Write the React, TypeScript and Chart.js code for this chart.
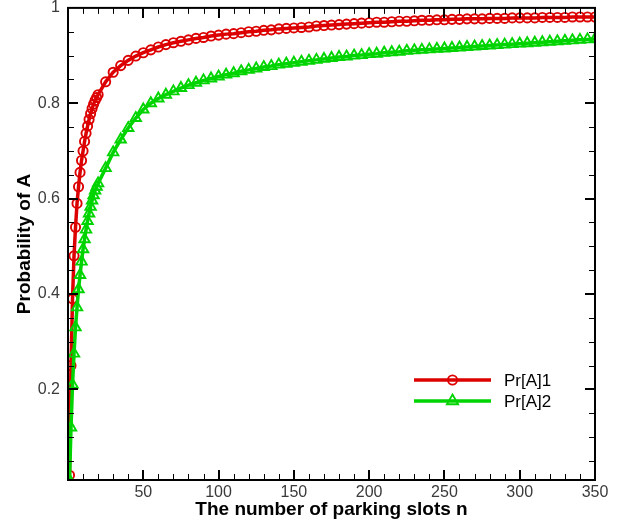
import React, { useEffect, useRef } from 'react';
import { Chart, registerables } from 'chart.js';

Chart.register(...registerables);

// ---- data ----
const nValues = [
  1, 2, 3, 4, 5, 6, 7, 8, 9, 10, 11, 12, 13, 14, 15, 16, 17, 18, 19, 20,
  25, 30, 35, 40, 45, 50, 55, 60, 65, 70, 75, 80, 85, 90, 95, 100,
  105, 110, 115, 120, 125, 130, 135, 140, 145, 150, 155, 160, 165, 170, 175, 180,
  185, 190, 195, 200, 205, 210, 215, 220, 225, 230, 235, 240, 245, 250, 255, 260,
  265, 270, 275, 280, 285, 290, 295, 300, 305, 310, 315, 320, 325, 330, 335, 340,
  345, 350,
];

const pr1Values = [
  0.02, 0.25, 0.39, 0.48, 0.54, 0.59, 0.625, 0.655, 0.68, 0.7, 0.72, 0.737, 0.752, 0.766, 0.778, 0.789, 0.798, 0.806, 0.812, 0.818,
  0.845, 0.865, 0.879, 0.89, 0.899, 0.906, 0.912, 0.918, 0.923, 0.927, 0.93, 0.933, 0.936, 0.938, 0.941, 0.943,
  0.945, 0.946, 0.948, 0.95, 0.951, 0.953, 0.954, 0.956, 0.957, 0.958, 0.959, 0.96, 0.962, 0.963, 0.964, 0.965,
  0.966, 0.967, 0.968, 0.969, 0.97, 0.97, 0.971, 0.972, 0.972, 0.973, 0.974, 0.974, 0.975, 0.975, 0.976, 0.976,
  0.977, 0.977, 0.977, 0.978, 0.978, 0.978, 0.979, 0.979, 0.979, 0.979, 0.98, 0.98, 0.98, 0.98, 0.981, 0.981,
  0.981, 0.981,
];

const pr2Values = [
  0.01, 0.12, 0.21, 0.275, 0.33, 0.372, 0.41, 0.44, 0.468, 0.494, 0.515, 0.535, 0.553, 0.569, 0.583, 0.596, 0.607, 0.617, 0.625, 0.632,
  0.664, 0.697, 0.724, 0.748, 0.769, 0.787, 0.8, 0.81, 0.818, 0.825, 0.832, 0.838, 0.843, 0.848, 0.852, 0.856,
  0.86, 0.863, 0.867, 0.87, 0.873, 0.876, 0.878, 0.881, 0.883, 0.885, 0.887, 0.889, 0.891, 0.893, 0.895, 0.897,
  0.898, 0.9, 0.901, 0.903, 0.904, 0.906, 0.907, 0.908, 0.91, 0.911, 0.912, 0.913, 0.914, 0.915, 0.916, 0.917,
  0.918, 0.919, 0.92, 0.921, 0.922, 0.923, 0.924, 0.925, 0.926, 0.927, 0.928, 0.929, 0.93, 0.931, 0.932, 0.933,
  0.934, 0.935,
];

const seriesLabels = ['Pr[A]1', 'Pr[A]2'];
const xTickValues = [50, 100, 150, 200, 250, 300, 350];
const yTickValues = [0.2, 0.4, 0.6, 0.8, 1];
const xMinorStep = 10;
const yMinorStep = 0.05;

const X_MIN = 0;
const X_MAX = 350;
const Y_MIN = 0.01;
const Y_MAX = 1;

// ---- styles ----
const RED = '#dc0000';
const GREEN = '#00d400';
const FONT = '"Liberation Sans", Arial, Helvetica, sans-serif';

const framePlugin = {
  id: 'tecplotFrame',
  afterDatasetsDraw(chart: any) {
    const { ctx, chartArea: a, scales } = chart;
    const xs = scales.x;
    const ys = scales.y;
    ctx.save();
    ctx.strokeStyle = '#000';
    // minor + major ticks on x (bottom & top, inward)
    for (let i = 1; X_MIN + i * xMinorStep < X_MAX; i++) {
      const v = X_MIN + i * xMinorStep;
      const major = xTickValues.some((t) => Math.abs(t - v) < 1e-9);
      const len = major ? 10 : 6;
      const w = major ? 2 : 1;
      const px = w === 1 ? Math.round(xs.getPixelForValue(v)) + 0.5 : Math.round(xs.getPixelForValue(v));
      ctx.lineWidth = w;
      ctx.beginPath();
      ctx.moveTo(px, a.bottom);
      ctx.lineTo(px, a.bottom - len);
      ctx.moveTo(px, a.top);
      ctx.lineTo(px, a.top + len);
      ctx.stroke();
    }
    // y ticks (left & right, inward)
    const nY = Math.round((Y_MAX - 0) / yMinorStep);
    for (let i = 1; i < nY; i++) {
      const v = i * yMinorStep;
      if (v <= Y_MIN) continue;
      const major = yTickValues.some((t) => Math.abs(t - v) < 1e-9);
      const len = major ? 10 : 6;
      const w = major ? 2 : 1;
      const py = w === 1 ? Math.round(ys.getPixelForValue(v)) + 0.5 : Math.round(ys.getPixelForValue(v));
      ctx.lineWidth = w;
      ctx.beginPath();
      ctx.moveTo(a.left, py);
      ctx.lineTo(a.left + len, py);
      ctx.moveTo(a.right, py);
      ctx.lineTo(a.right - len, py);
      ctx.stroke();
    }
    // frame
    ctx.lineWidth = 2;
    ctx.strokeRect(a.left, a.top, a.right - a.left, a.bottom - a.top);

    // legend
    const items = chart.data.datasets;
    const order = [1, 0]; // Pr[A]1 first, then Pr[A]2
    const lineX0 = 414;
    const lineX1 = 491;
    const rowY = [380, 401];
    order.forEach((dsIndex, row) => {
      const ds = items[dsIndex];
      const y = rowY[row];
      ctx.strokeStyle = ds.borderColor;
      ctx.lineWidth = 3.5;
      ctx.beginPath();
      ctx.moveTo(lineX0, y);
      ctx.lineTo(lineX1, y);
      ctx.stroke();
      const cx = (lineX0 + lineX1) / 2;
      ctx.lineWidth = 1.8;
      ctx.beginPath();
      if (ds.pointStyle === 'circle') {
        ctx.arc(cx, y, 4.6, 0, Math.PI * 2);
      } else {
        const r = 6.5;
        ctx.moveTo(cx, y - r);
        ctx.lineTo(cx + r * Math.sin((2 * Math.PI) / 3), y - r * Math.cos((2 * Math.PI) / 3));
        ctx.lineTo(cx + r * Math.sin((4 * Math.PI) / 3), y - r * Math.cos((4 * Math.PI) / 3));
        ctx.closePath();
      }
      ctx.stroke();
      ctx.fillStyle = '#000';
      ctx.font = `17px ${FONT}`;
      ctx.textAlign = 'left';
      ctx.textBaseline = 'middle';
      ctx.fillText(ds.label, 504, y + 1);
    });
    ctx.restore();
  },
};

export default function App() {
  const canvasRef = useRef<HTMLCanvasElement | null>(null);

  useEffect(() => {
    if (!canvasRef.current) return;
    const pts1 = nValues.map((n, i) => ({ x: n, y: pr1Values[i] }));
    const pts2 = nValues.map((n, i) => ({ x: n, y: pr2Values[i] }));
    const chart = new Chart(canvasRef.current, {
      type: 'line',
      data: {
        datasets: [
          {
            label: seriesLabels[1],
            data: pts2,
            borderColor: GREEN,
            borderWidth: 3.5,
            pointStyle: 'triangle',
            pointRadius: 6,
            pointBorderWidth: 1.9,
            pointBorderColor: GREEN,
            pointBackgroundColor: 'rgba(0,0,0,0)',
            tension: 0,
            order: 0,
          },
          {
            label: seriesLabels[0],
            data: pts1,
            borderColor: RED,
            borderWidth: 3.5,
            pointStyle: 'circle',
            pointRadius: 4.6,
            pointBorderWidth: 1.9,
            pointBorderColor: RED,
            pointBackgroundColor: 'rgba(0,0,0,0)',
            tension: 0,
            order: 1,
          },
        ],
      },
      options: {
        animation: false,
        responsive: false,
        events: [],
        layout: { padding: { top: 7, right: 32, left: 0, bottom: 0 } },
        plugins: {
          legend: { display: false },
          tooltip: { enabled: false },
        },
        scales: {
          x: {
            type: 'linear',
            min: X_MIN,
            max: X_MAX,
            grid: { display: false, drawTicks: false },
            border: { display: false },
            afterBuildTicks: (scale: any) => {
              scale.ticks = xTickValues.map((v) => ({ value: v }));
            },
            afterFit: (scale: any) => {
              scale.height = 47;
              scale.paddingLeft = 0;
              scale.paddingRight = 0;
            },
            ticks: {
              padding: 3,
              maxRotation: 0,
              autoSkip: false,
              color: '#3a3a3a',
              font: { family: FONT, size: 16 },
              callback: (v: any) => String(v),
            },
            title: {
              display: true,
              text: 'The number of parking slots n',
              color: '#000',
              font: { family: FONT, size: 19, weight: 'bold' },
              padding: { top: 0, bottom: 6 },
            },
          },
          y: {
            type: 'linear',
            min: Y_MIN,
            max: Y_MAX,
            grid: { display: false, drawTicks: false },
            border: { display: false },
            afterBuildTicks: (scale: any) => {
              scale.ticks = yTickValues.map((v) => ({ value: v }));
            },
            afterFit: (scale: any) => {
              scale.width = 68;
              scale.paddingTop = 0;
              scale.paddingBottom = 0;
            },
            ticks: {
              padding: 8,
              autoSkip: false,
              color: '#3a3a3a',
              font: { family: FONT, size: 16 },
              callback: (v: any) => String(v),
            },
            title: {
              display: true,
              text: 'Probability of A',
              color: '#000',
              font: { family: FONT, size: 19, weight: 'bold' },
              padding: { top: 13, bottom: 0 },
            },
          },
        },
      },
      plugins: [framePlugin],
    });
    return () => chart.destroy();
  }, []);

  return (
    <div style={{ position: 'absolute', left: 0, top: 0, width: 627, height: 527, background: '#fff' }}>
      <canvas ref={canvasRef} width={627} height={527} style={{ display: 'block' }} />
    </div>
  );
}
